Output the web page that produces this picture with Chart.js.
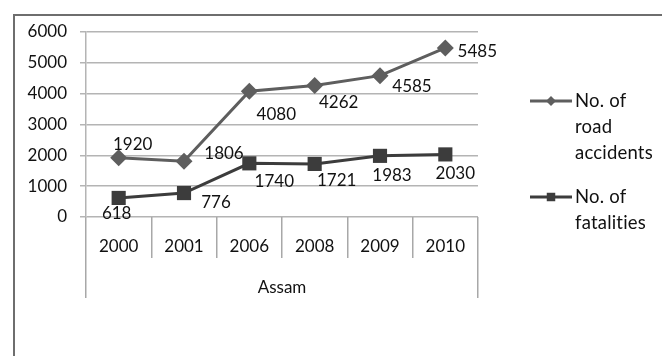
<!DOCTYPE html>
<html>
<head>
<meta charset="utf-8">
<script src="https://cdn.jsdelivr.net/npm/chart.js@4.4.0/dist/chart.umd.min.js"></script>
<style>
  html, body { margin: 0; padding: 0; background: #fff; overflow: hidden; }
  #wrap { position: relative; width: 662px; height: 356px; }
</style>
</head>
<body>
<div id="wrap"><canvas id="chart" width="662" height="356"></canvas></div>
<script>
// Road safety figures for Assam
const years = ['2000', '2001', '2006', '2008', '2009', '2010'];
const groupLabels = ['Assam'];
const roadAccidents = [1920, 1806, 4080, 4262, 4585, 5485];
const fatalities = [618, 776, 1740, 1721, 1983, 2030];
const seriesNames = [['No. of', 'road', 'accidents'], ['No. of', 'fatalities']];
const yTicks = [0, 1000, 2000, 3000, 4000, 5000, 6000];

const FONT = 'Lato, "Open Sans", sans-serif';
const TEXT = '#111';

// Where each value label sits relative to its point (px)
const labelShift = [
  [[14, -13], [40, -8], [27, 23], [24, 17], [32, 11], [32, 4]],
  [[-2, 16], [32, 9], [25, 18], [22, 17], [12, 20], [10, 19]]
];

// White page with the outer frame
const framePlugin = {
  id: 'frame',
  beforeDraw(chart) {
    const c = chart.ctx;
    c.save();
    c.fillStyle = '#fff';
    c.fillRect(0, 0, chart.width, chart.height);
    c.strokeStyle = '#6e6e6e';
    c.lineWidth = 2;
    c.strokeRect(14, 15, 800, 500);
    c.restore();
  }
};

// Value labels next to each point
const valueLabels = {
  id: 'valueLabels',
  afterDatasetsDraw(chart) {
    const c = chart.ctx;
    c.save();
    c.font = '17px ' + FONT;
    c.fillStyle = TEXT;
    c.textAlign = 'center';
    c.textBaseline = 'middle';
    chart.data.datasets.forEach((ds, di) => {
      const meta = chart.getDatasetMeta(di);
      meta.data.forEach((pt, i) => {
        const s = labelShift[di][i];
        c.fillText(String(ds.data[i]), pt.x + s[0], pt.y + s[1]);
      });
    });
    c.restore();
  }
};

// Legend on the right with wrapped series names
const sideLegend = {
  id: 'sideLegend',
  afterDraw(chart) {
    const c = chart.ctx;
    const x0 = 530, x1 = 572, tx = 575;
    const rows = [101, 197];
    c.save();
    chart.data.datasets.forEach((ds, di) => {
      const y = rows[di];
      c.strokeStyle = ds.borderColor;
      c.lineWidth = 3;
      c.beginPath();
      c.moveTo(x0, y);
      c.lineTo(x1, y);
      c.stroke();
      c.fillStyle = ds.backgroundColor;
      Chart.helpers.drawPoint(c, {
        pointStyle: ds.pointStyle,
        radius: di === 0 ? 5 : 6,
        rotation: 0,
        borderWidth: 0
      }, (x0 + x1) / 2, y);
      c.fillStyle = TEXT;
      c.font = '18.5px ' + FONT;
      c.textAlign = 'left';
      c.textBaseline = 'middle';
      // a hair of tracking keeps "ti" from joining into a ligature
      if ('letterSpacing' in c) c.letterSpacing = '0.2px';
      seriesNames[di].forEach((line, li) => {
        c.fillText(line, tx, y + li * 26);
      });
    });
    c.restore();
  }
};

new Chart(document.getElementById('chart'), {
  type: 'line',
  data: {
    labels: years,
    datasets: [
      {
        label: seriesNames[0].join(' '),
        data: roadAccidents,
        borderColor: '#5e5e5e',
        backgroundColor: '#5e5e5e',
        borderWidth: 3,
        pointStyle: 'rectRot',
        pointRadius: 8.5,
        pointBorderWidth: 0,
        tension: 0
      },
      {
        label: seriesNames[1].join(' '),
        data: fatalities,
        borderColor: '#3c3c3c',
        backgroundColor: '#3c3c3c',
        borderWidth: 3,
        pointStyle: 'rect',
        pointRadius: 10,
        pointBorderWidth: 0,
        tension: 0
      }
    ]
  },
  options: {
    responsive: false,
    animation: false,
    events: [],
    layout: { padding: { left: 25, right: 184, top: 32, bottom: 58 } },
    plugins: {
      legend: { display: false },
      tooltip: { enabled: false }
    },
    scales: {
      y: {
        min: 0,
        max: 6000,
        afterBuildTicks: s => { s.ticks = yTicks.map(v => ({ value: v })); },
        afterFit: s => { s.width = 61; },
        grid: { color: '#b4b4b4', lineWidth: 1.5, tickLength: 6 },
        border: { display: true, color: '#b4b4b4', width: 1.5 },
        ticks: {
          padding: 13, color: TEXT, font: { family: FONT, size: 17 },
          callback: v => String(v)
        }
      },
      x: {
        weight: 0,
        offset: true,
        afterFit: s => { s.height = 41; },
        grid: { offset: true, drawOnChartArea: false, tickLength: 41, color: '#a8a8a8', lineWidth: 1.5 },
        border: { display: false },
        ticks: { padding: -22, color: TEXT, font: { family: FONT, size: 17 }, maxRotation: 0 }
      },
      x2: {
        type: 'category',
        position: 'bottom',
        weight: 1,
        labels: groupLabels,
        offset: true,
        afterFit: s => { s.height = 40; },
        grid: { offset: true, drawOnChartArea: false, tickLength: 40, color: '#a8a8a8', lineWidth: 1.5 },
        border: { display: false },
        ticks: { padding: -21, color: TEXT, font: { family: FONT, size: 17 } }
      }
    }
  },
  plugins: [framePlugin, valueLabels, sideLegend]
});
</script>
</body>
</html>
